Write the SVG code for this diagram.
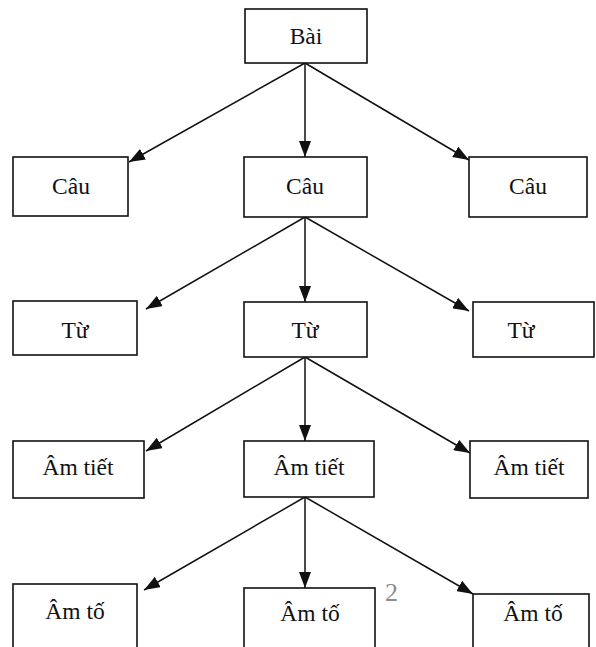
<svg xmlns="http://www.w3.org/2000/svg" width="596" height="647" viewBox="0 0 596 647">
  <style>
    .box rect { fill: #ffffff; stroke: #111111; stroke-width: 1.6; }
    .box text { font-family: "Liberation Serif", "Times New Roman", serif; font-size: 23.5px; fill: #111111; text-anchor: middle; }
    .edge { stroke: #111111; stroke-width: 1.5; fill: none; marker-end: url(#arrow); }
    .pagenum { font-family: "Liberation Serif", "Times New Roman", serif; font-size: 26px; fill: #8c8c8c; }
  </style>
  <defs>
    <marker id="arrow" viewBox="0 0 16 12" refX="16" refY="6" markerWidth="16" markerHeight="12" markerUnits="userSpaceOnUse" orient="auto">
      <path d="M0,0 L16,6 L0,12 Z" fill="#111111"/>
    </marker>
  </defs>
  <rect width="596" height="647" fill="#ffffff"/>

  <!-- connectors -->
  <g id="edges">
    <line class="edge" x1="305" y1="63" x2="129" y2="162"/>
    <line class="edge" x1="305" y1="63" x2="305" y2="157"/>
    <line class="edge" x1="305" y1="63" x2="469" y2="160"/>

    <line class="edge" x1="305" y1="217" x2="146" y2="309"/>
    <line class="edge" x1="305" y1="217" x2="305" y2="302"/>
    <line class="edge" x1="305" y1="217" x2="469" y2="311"/>

    <line class="edge" x1="305" y1="357" x2="146" y2="451"/>
    <line class="edge" x1="305" y1="357" x2="305" y2="441"/>
    <line class="edge" x1="305" y1="357" x2="470" y2="453"/>

    <line class="edge" x1="305" y1="497" x2="144" y2="590"/>
    <line class="edge" x1="305" y1="497" x2="305" y2="588"/>
    <line class="edge" x1="305" y1="497" x2="473" y2="594"/>
  </g>

  <!-- level 0 -->
  <g id="bai" class="box"><rect x="245" y="9" width="122" height="54"/><text x="306" y="44">Bài</text></g>

  <!-- level 1 -->
  <g id="cau-left" class="box"><rect x="13" y="157" width="115" height="59"/><text x="71" y="194">Câu</text></g>
  <g id="cau-mid" class="box"><rect x="244" y="157" width="123" height="60"/><text x="305" y="194">Câu</text></g>
  <g id="cau-right" class="box"><rect x="469" y="157" width="118" height="60"/><text x="528" y="194">Câu</text></g>

  <!-- level 2 -->
  <g id="tu-left" class="box"><rect x="13" y="301" width="124" height="54"/><text x="75" y="338">Từ</text></g>
  <g id="tu-mid" class="box"><rect x="244" y="302" width="123" height="55"/><text x="305" y="338">Từ</text></g>
  <g id="tu-right" class="box"><rect x="473" y="302" width="121" height="55"/><text x="521" y="338">Từ</text></g>

  <!-- level 3 -->
  <g id="amtiet-left" class="box"><rect x="13" y="441" width="131" height="57"/><text x="78" y="475">Âm tiết</text></g>
  <g id="amtiet-mid" class="box"><rect x="244" y="441" width="130" height="56"/><text x="309" y="475">Âm tiết</text></g>
  <g id="amtiet-right" class="box"><rect x="470" y="441" width="118" height="57"/><text x="529" y="475">Âm tiết</text></g>

  <!-- level 4 -->
  <g id="amto-left" class="box"><rect x="13" y="584" width="124" height="80"/><text x="75" y="619">Âm tố</text></g>
  <g id="amto-mid" class="box"><rect x="244" y="588" width="131" height="80"/><text x="310" y="621">Âm tố</text></g>
  <g id="amto-right" class="box"><rect x="473" y="594" width="116" height="80"/><text x="533" y="621">Âm tố</text></g>

  <text class="pagenum" x="385" y="601">2</text>
</svg>
